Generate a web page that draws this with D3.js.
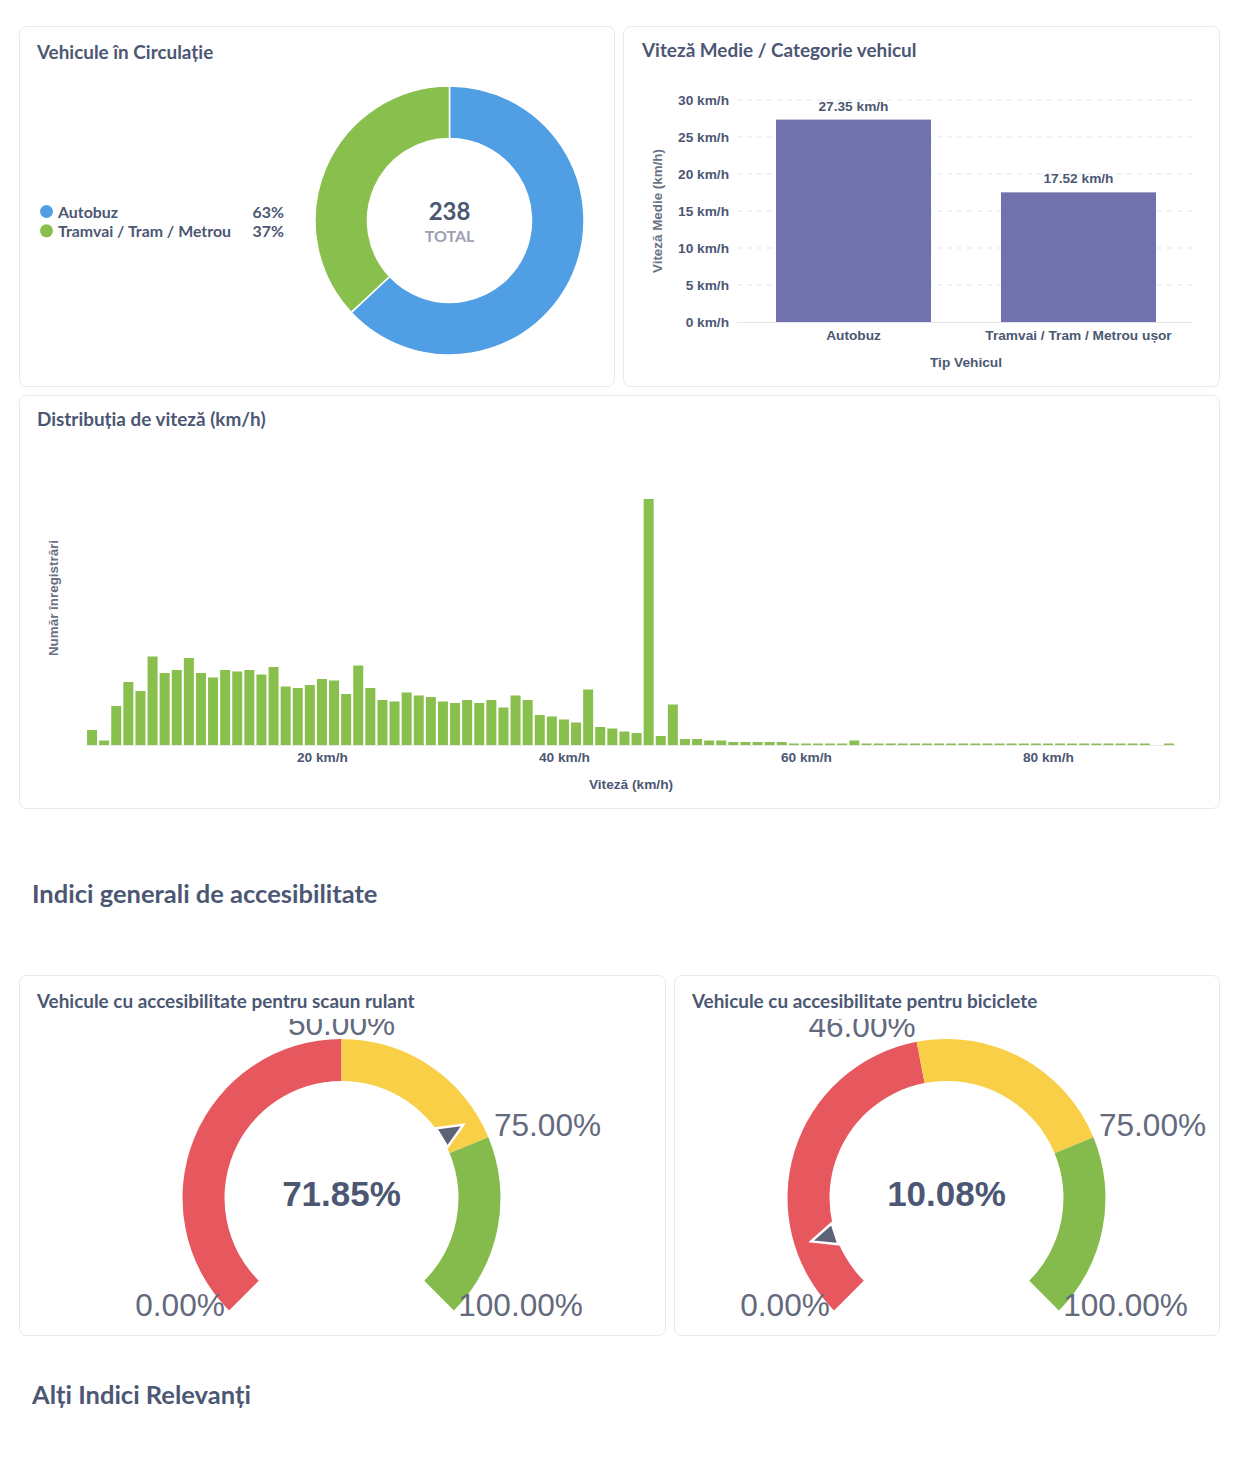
<!DOCTYPE html>
<html><head><meta charset="utf-8">
<script src="https://cdn.jsdelivr.net/npm/d3@7"></script>
<style>
html,body{margin:0;padding:0;background:#fff;}
svg{display:block;}
</style></head><body>
<svg id="c" width="1238" height="1460"></svg>
<script>
// ---------------- DATA ----------------
const donutCategories = ["Autobuz", "Tramvai / Tram / Metrou"];
const donutValues = [150, 88];
const donutPercents = ["63%", "37%"];
const donutTotal = 238;

const speedCategories = ["Autobuz", "Tramvai / Tram / Metrou ușor"];
const speedValues = [27.35, 17.52];
const speedTicks = [0, 5, 10, 15, 20, 25, 30];

const histBins = [1,2,3,4,5,6,7,8,9,10,11,12,13,14,15,16,17,18,19,20,21,22,23,24,25,26,27,28,29,30,
  31,32,33,34,35,36,37,38,39,40,41,42,43,44,45,46,47,48,49,50,51,52,53,54,55,56,57,58,59,60,
  61,62,63,64,65,66,67,68,69,70,71,72,73,74,75,76,77,78,79,80,81,82,83,84,85,86,87,88,89,90];
const histCounts = [10,3,26,42,36,59,48,50,58,48, 45,50,49,50,47,52,39,38,40,44,
  43,34,53,38,30,29,35,33,32,29, 28,30,28,30,25,33,30,20,19,17,
  15,37,12,11,9,8,164,6,27,4, 4,3,3,2,2,2,2,2,1,1,
  1,1,1,3,1,1,1,1,1,1, 1,1,1,1,1,1,1,1,1,1,
  1,1,1,1,1,1,1,1,0,1];
const histTicks = [20, 40, 60, 80];

const gaugeTitles = ["Vehicule cu accesibilitate pentru scaun rulant", "Vehicule cu accesibilitate pentru biciclete"];
const gaugeValues = [71.85, 10.08];
const gaugeSegments1 = [0, 50, 75, 100];
const gaugeSegments2 = [0, 46, 75, 100];

// ---------------- STYLE ----------------
const svg = d3.select("#c");
const TEXT = "#4c5773";
const AXIS_TITLE = "#6b7083";
const TITLE_FONT = "Lato, 'Noto Sans', sans-serif";
const CHART_FONT = "'Liberation Sans', Arial, Helvetica, sans-serif";
const BLUE = "#509ee3", GREEN = "#88bf4d", PURPLE = "#7172ad";
const RED = "#e6575e", YELLOW = "#f9cf48", GGREEN = "#84bb4c";
const FS = 13.7;

// cards
const cards = [[19,26,595,360],[623,26,596,360],[19,395,1200,413],[19,975,646,360],[674,975,545,360]];
svg.selectAll("rect.card").data(cards).join("rect").attr("class","card")
  .attr("x", d=>d[0]+0.5).attr("y", d=>d[1]+0.5).attr("width", d=>d[2]).attr("height", d=>d[3])
  .attr("rx", 7).attr("fill", "#fff").attr("stroke", "#e7e9ed").attr("stroke-width", 1);

function title(x, y, t, size) {
  svg.append("text").attr("x", x).attr("y", y).text(t)
    .attr("font-family", TITLE_FONT).attr("font-weight", 700).attr("font-size", size || 18.9)
    .attr("fill", TEXT);
}
title(37, 59, "Vehicule în Circulație");
title(642, 57, "Viteză Medie / Categorie vehicul");
title(37, 426, "Distribuția de viteză (km/h)");
title(32, 903, "Indici generali de accesibilitate", 25.5);
title(37, 1008, gaugeTitles[0]);
title(692, 1008, gaugeTitles[1]);
title(32, 1404, "Alți Indici Relevanți", 25.5);

// ---------------- DONUT ----------------
(function(){
  const colors = [BLUE, GREEN];
  const g = svg.append("g").attr("transform", "translate(449.5,220.5)");
  const pie = d3.pie().sort(null).value(d => d);
  const arc = d3.arc().innerRadius(82).outerRadius(134.5);
  g.selectAll("path").data(pie(donutValues)).join("path")
    .attr("d", arc).attr("fill", (d,i) => colors[i]).attr("stroke", "#fff").attr("stroke-width", 1.5);
  g.append("text").attr("y", -1).attr("text-anchor","middle").text(donutTotal)
    .attr("font-family", TITLE_FONT).attr("font-weight", 700).attr("font-size", 24).attr("fill", TEXT);
  g.append("text").attr("y", 21).attr("text-anchor","middle").text("TOTAL")
    .attr("font-family", TITLE_FONT).attr("font-weight", 700).attr("font-size", 16).attr("fill", "#9da1b1");
  const lg = svg.append("g");
  donutCategories.forEach((c, i) => {
    const yb = 218 + i * 19.3;
    lg.append("circle").attr("cx", 46.5).attr("cy", yb - 6.5).attr("r", 6.5).attr("fill", colors[i]);
    lg.append("text").attr("x", 58).attr("y", yb).text(c)
      .attr("font-family", TITLE_FONT).attr("font-weight", 700).attr("font-size", 15.9).attr("fill", TEXT);
    lg.append("text").attr("x", 284).attr("y", yb).attr("text-anchor","end").text(donutPercents[i])
      .attr("font-family", TITLE_FONT).attr("font-weight", 700).attr("font-size", 15.9).attr("fill", TEXT);
  });
})();

// ---------------- BAR CHART ----------------
(function(){
  const x = d3.scaleBand().domain(speedCategories).range([740, 1192]).paddingInner(0.311).paddingOuter(0.16);
  const y = d3.scaleLinear().domain([0, 30]).range([322, 100]);
  const g = svg.append("g");
  g.selectAll("line.grid").data(speedTicks.filter(t => t > 0)).join("line")
    .attr("x1", 737).attr("x2", 1192).attr("y1", d => y(d)).attr("y2", d => y(d))
    .attr("stroke", "#e3e5ea").attr("stroke-dasharray", "5,5");
  g.append("line").attr("x1", 737).attr("x2", 1192).attr("y1", y(0)+0.5).attr("y2", y(0)+0.5).attr("stroke", "#e3e5ea");
  g.selectAll("rect.bar").data(speedValues).join("rect").attr("class","bar")
    .attr("x", (d,i) => x(speedCategories[i])).attr("width", x.bandwidth())
    .attr("y", d => y(d)).attr("height", d => y(0) - y(d)).attr("fill", PURPLE);
  g.selectAll("text.val").data(speedValues).join("text").attr("class","val")
    .attr("x", (d,i) => x(speedCategories[i]) + x.bandwidth()/2).attr("y", d => y(d) - 9)
    .attr("text-anchor","middle").text(d => d.toFixed(2) + " km/h")
    .attr("font-family", CHART_FONT).attr("font-weight", 700).attr("font-size", FS).attr("fill", TEXT);
  const ya = g.append("g").attr("transform", "translate(737,0)")
    .call(d3.axisLeft(y).tickValues(speedTicks).tickSize(0).tickPadding(8).tickFormat(d => d + " km/h"));
  ya.select(".domain").remove();
  ya.selectAll("text").attr("font-family", CHART_FONT).attr("font-weight", 700).attr("font-size", FS).attr("fill", TEXT);
  const xa = g.append("g").attr("transform", "translate(0,322)")
    .call(d3.axisBottom(x).tickSize(0).tickPadding(8));
  xa.select(".domain").remove();
  xa.selectAll("text").attr("font-family", CHART_FONT).attr("font-weight", 700).attr("font-size", FS).attr("fill", TEXT);
  g.append("text").attr("x", 966).attr("y", 367).attr("text-anchor","middle").text("Tip Vehicul")
    .attr("font-family", CHART_FONT).attr("font-weight", 700).attr("font-size", FS).attr("fill", TEXT);
  g.append("text").attr("transform", "translate(662,211) rotate(-90)").attr("text-anchor","middle")
    .text("Viteză Medie (km/h)")
    .attr("font-family", CHART_FONT).attr("font-weight", 700).attr("font-size", 13.4).attr("fill", AXIS_TITLE);
})();

// ---------------- HISTOGRAM ----------------
(function(){
  const x = d3.scaleLinear().domain([0.5, 90.5]).range([86, 1175]);
  const y = d3.scaleLinear().domain([0, 164]).range([745, 499]);
  const g = svg.append("g");
  const bw = 10;
  g.append("line").attr("x1", 86).attr("x2", 1177).attr("y1", 745.5).attr("y2", 745.5).attr("stroke", "#e6e8ec");
  g.selectAll("rect").data(histCounts).join("rect")
    .attr("x", (d,i) => x(histBins[i]) - bw/2).attr("width", bw)
    .attr("y", d => y(d)).attr("height", d => y(0) - y(d)).attr("fill", GREEN);
  const xa = g.append("g").attr("transform", "translate(0,745)")
    .call(d3.axisBottom(x).tickValues(histTicks).tickSize(0).tickPadding(7).tickFormat(d => d + " km/h"));
  xa.select(".domain").remove();
  xa.selectAll("text").attr("font-family", CHART_FONT).attr("font-weight", 700).attr("font-size", FS).attr("fill", TEXT);
  g.append("text").attr("x", 631).attr("y", 789).attr("text-anchor","middle").text("Viteză (km/h)")
    .attr("font-family", CHART_FONT).attr("font-weight", 700).attr("font-size", FS).attr("fill", TEXT);
  g.append("text").attr("transform", "translate(58,598) rotate(-90)").attr("text-anchor","middle")
    .text("Număr înregistrări")
    .attr("font-family", CHART_FONT).attr("font-weight", 700).attr("font-size", 13.4).attr("fill", AXIS_TITLE);
})();

// ---------------- GAUGES ----------------
function gauge(id, cx, cy, segments, value, clipX, clipW) {
  const colors = [RED, YELLOW, GGREEN];
  svg.append("clipPath").attr("id", id).append("rect")
    .attr("x", clipX).attr("y", 1019).attr("width", clipW).attr("height", 310);
  const root = svg.append("g").attr("clip-path", `url(#${id})`);
  const g = root.append("g").attr("transform", `translate(${cx},${cy})`);
  const a = d3.scaleLinear().domain([0, 100]).range([-3*Math.PI/4, 3*Math.PI/4]);
  const arc = d3.arc().innerRadius(117).outerRadius(159);
  const segs = segments.slice(0, -1).map((s, i) => ({s0: s, s1: segments[i+1], c: colors[i]}));
  g.selectAll("path.seg").data(segs).join("path").attr("class","seg")
    .attr("d", d => arc({startAngle: a(d.s0), endAngle: a(d.s1)})).attr("fill", d => d.c);
  const R = 165;
  g.selectAll("text.lbl").data(segments).join("text").attr("class","lbl")
    .attr("x", d => R * Math.sin(a(d))).attr("y", d => -R * Math.cos(a(d)) + 1.5)
    .attr("text-anchor", d => Math.abs(R * Math.sin(a(d))) < 5 ? "middle" : (Math.sin(a(d)) > 0 ? "start" : "end"))
    .text(d => d.toFixed(2) + "%")
    .attr("font-family", CHART_FONT).attr("font-size", 31.6).attr("fill", "#646a7d");
  const th = a(value);
  const pr = 117;
  g.append("path").attr("d", "M-11,0 L0,-25 L11,0 Z")
    .attr("transform", `translate(${pr*Math.sin(th)},${-pr*Math.cos(th)}) rotate(${th*180/Math.PI})`)
    .attr("fill", "#5d6277").attr("stroke", "#fff").attr("stroke-width", 2.5).attr("stroke-linejoin","miter");
  g.append("text").attr("y", 8).attr("text-anchor","middle").text(value.toFixed(2) + "%")
    .attr("font-family", CHART_FONT).attr("font-weight", 700).attr("font-size", 35).attr("fill", TEXT);
}
gauge("g1", 341.5, 1198, gaugeSegments1, gaugeValues[0], 20, 644);
gauge("g2", 946.5, 1198, gaugeSegments2, gaugeValues[1], 675, 543);
</script></body></html>
